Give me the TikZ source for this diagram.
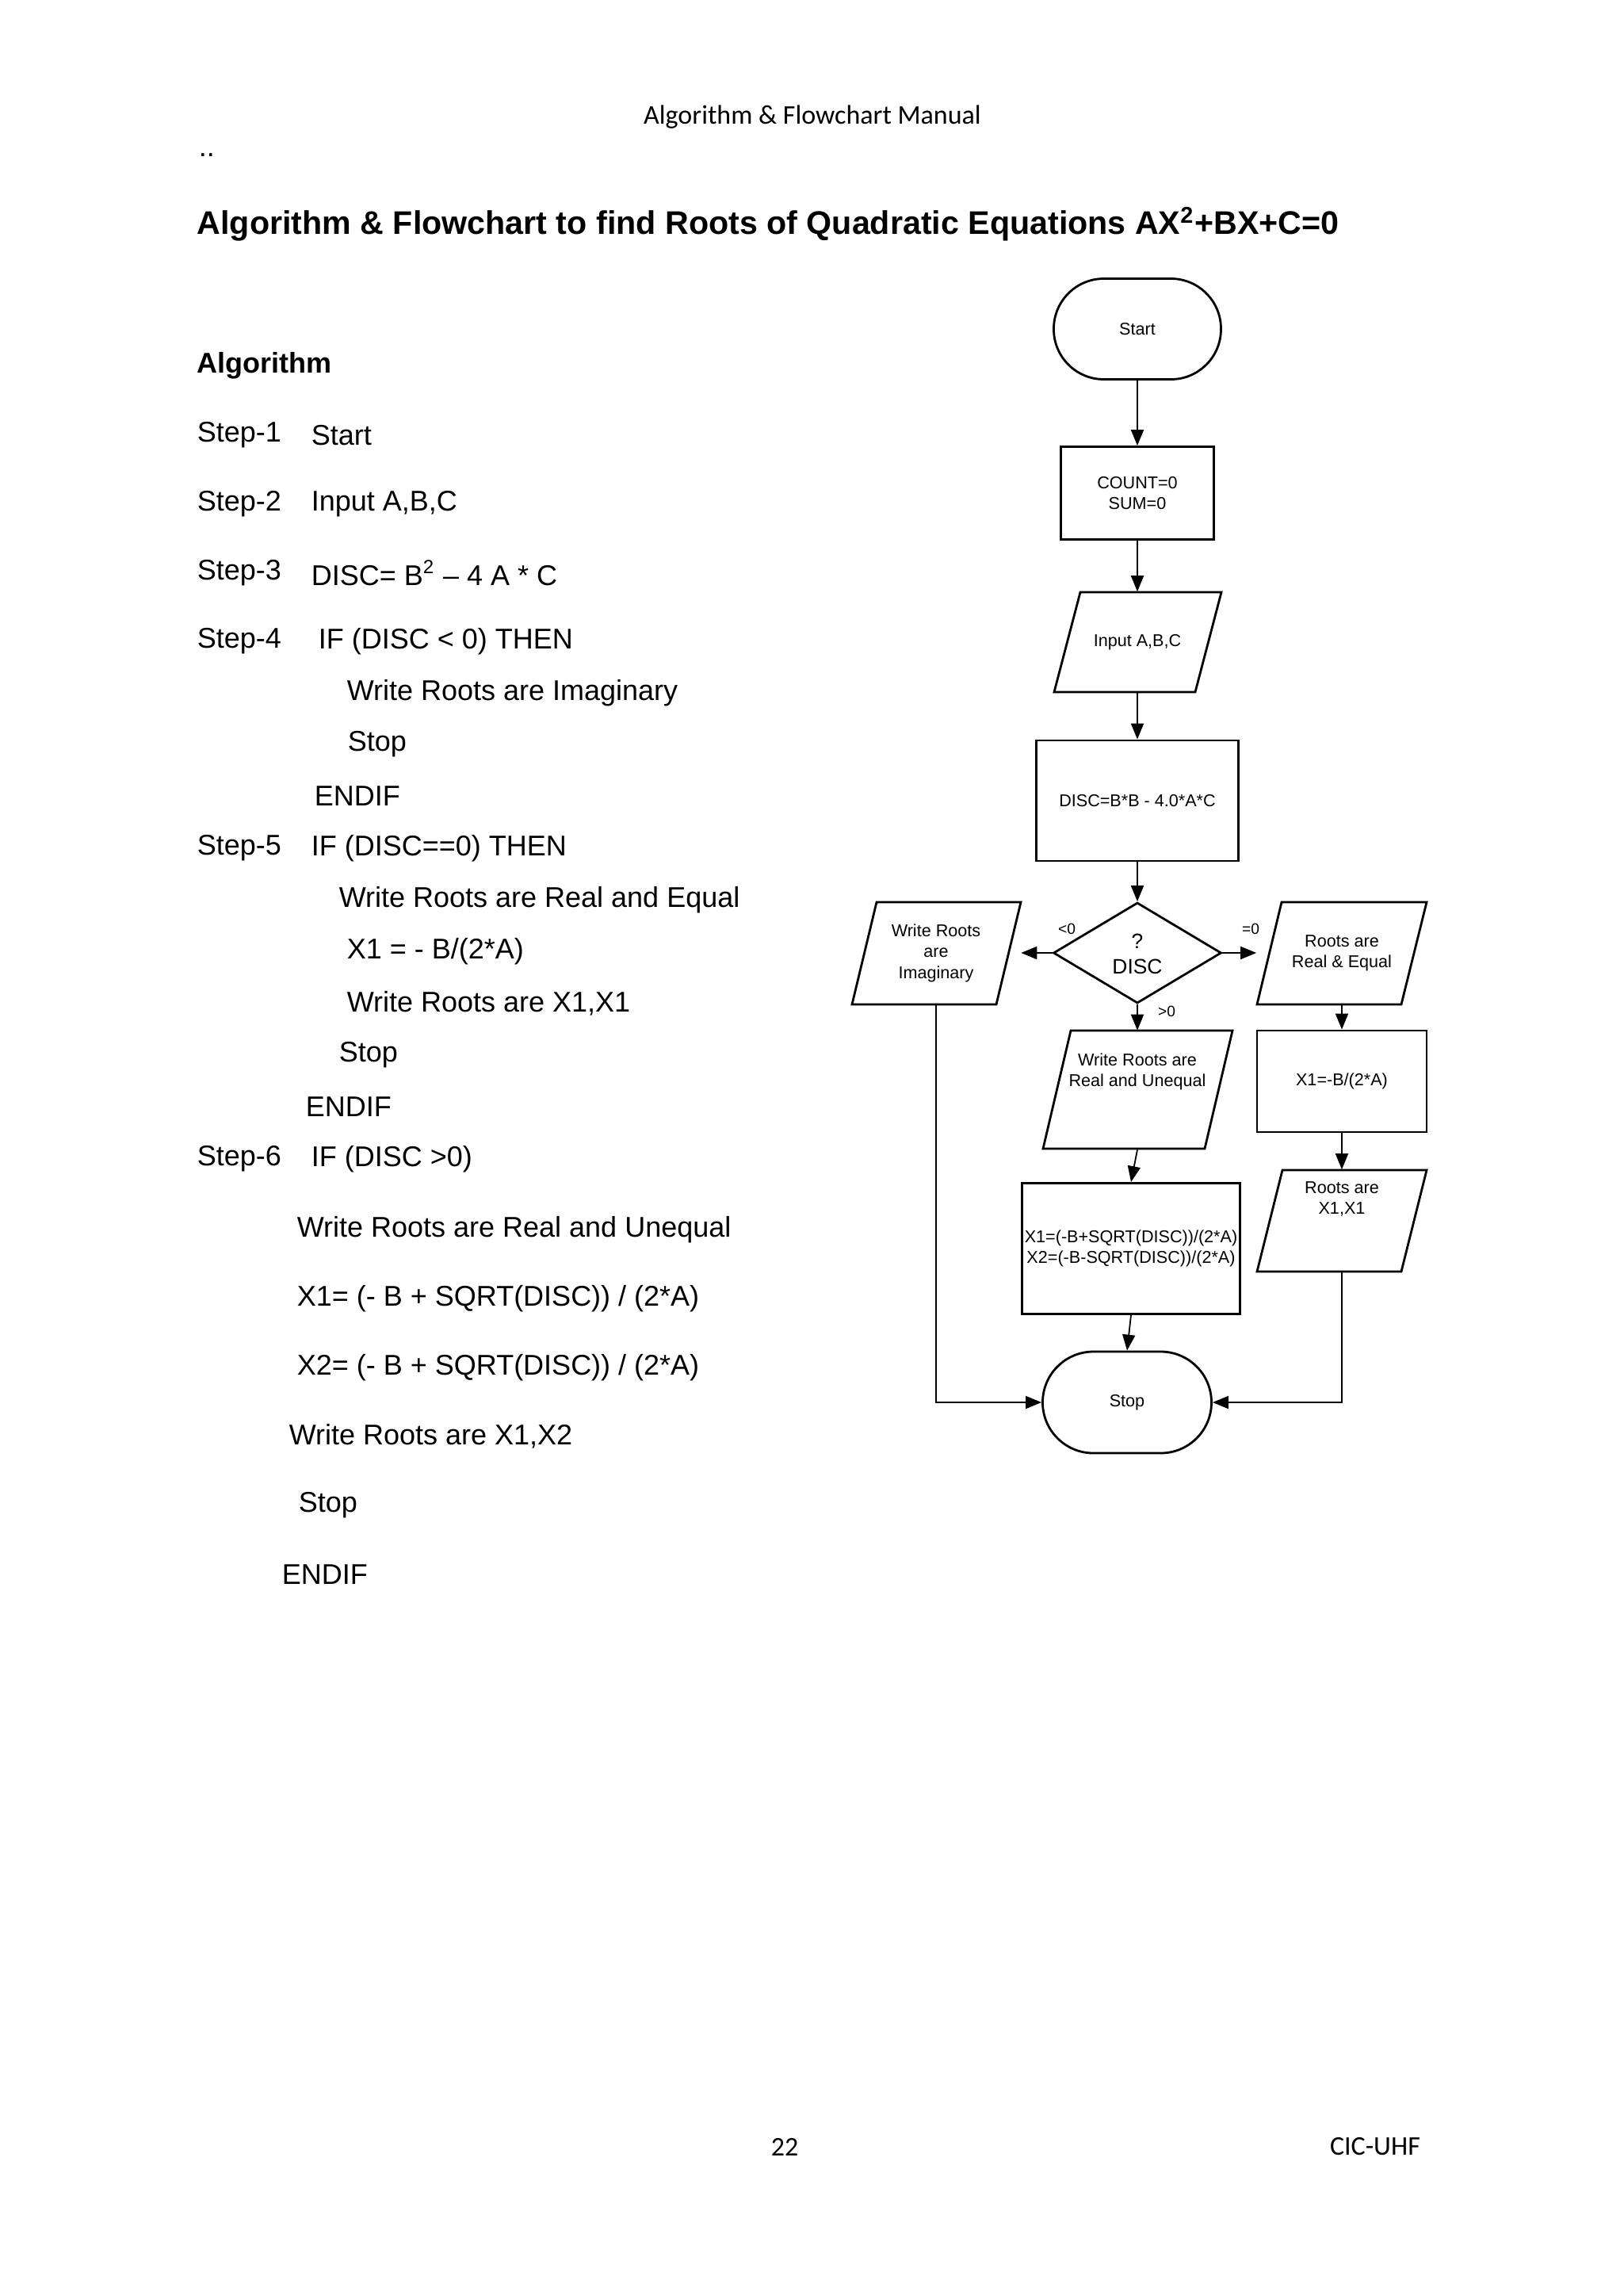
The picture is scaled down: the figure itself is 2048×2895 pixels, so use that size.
\documentclass[tikz,border=0pt]{standalone}
\usepackage{fontspec}
\setmainfont{Liberation Sans}
\newfontfamily\calib{Carlito}
\usetikzlibrary{arrows.meta,shapes.geometric}
\begin{document}
\begin{tikzpicture}[x=0.25pt,y=-0.25pt,
  body/.style={anchor=west,inner sep=0pt,font=\fontsize{9}{11}\selectfont},
  shp/.style={line width=0.7pt},
  fc/.style={align=center,inner sep=0pt,font=\fontsize{5.4}{6.6}\selectfont},
  box/.style={shp,draw,rectangle,minimum width=#1},
  ghost/.style={inner sep=0pt,align=center,font=\fontsize{5.4}{6.6}\selectfont},
  arr/.style={line width=0.45pt,-{Triangle[length=5pt,width=4pt]}},
  lab/.style={inner sep=0pt,font=\fontsize{4.8}{6}\selectfont}]
\useasboundingbox (0,0) rectangle (2048,2895);
% header/footer
\node[font=\calib\fontsize{8.5}{10}\selectfont] (hdr) at (1025,148) {Algorithm \& Flowchart Manual};
\node[body] (dots) at (250,196) {..};
\node[font=\calib\fontsize{8.5}{10}\selectfont] (pg) at (990,2708) {22};
\node[font=\calib\fontsize{8.5}{10}\selectfont,anchor=east] (cic) at (1806,2708) {CIC-UHF};
% title
\node[body,font=\bfseries\fontsize{10.3}{12}\selectfont] (title) at (248,283) {Algorithm \& Flowchart to find Roots of Quadratic Equations AX\textsuperscript{2}+BX+C=0};
\node[body,font=\bfseries\fontsize{9}{11}\selectfont] (alg) at (248,461) {Algorithm};
% steps
\node[body] (s1) at (248,549) {Step-1};\node[body] (t1) at (392,549) {Start};
\node[body] (s2) at (248,636) {Step-2};\node[body] (t2) at (392,636) {Input A,B,C};
\node[body] (s3) at (248,723) {Step-3};\node[body] (t3) at (392,723) {DISC= B\textsuperscript{2} – 4 A * C};
\node[body] (s4) at (248,809) {Step-4};\node[body] (t4) at (401,809) {IF (DISC < 0) THEN};
\node[body] (t4a) at (437,874) {Write Roots are Imaginary};
\node[body] (t4b) at (438,939) {Stop};
\node[body] (t4c) at (396,1004) {ENDIF};
\node[body] (s5) at (248,1070) {Step-5};\node[body] (t5) at (392,1070) {IF (DISC==0) THEN};
\node[body] (t5a) at (427,1135) {Write Roots are Real and Equal};
\node[body] (t5b) at (437,1200) {X1 = - B/(2*A)};
\node[body] (t5c) at (437,1266) {Write Roots are X1,X1};
\node[body] (t5d) at (427,1331) {Stop};
\node[body] (t5e) at (385,1396) {ENDIF};
\node[body] (s6) at (248,1462) {Step-6};\node[body] (t6) at (392,1462) {IF (DISC >0)};
\node[body] (t6a) at (374,1551) {Write Roots are Real and Unequal};
\node[body] (t6b) at (374,1638) {X1= (- B + SQRT(DISC)) / (2*A)};
\node[body] (t6c) at (374,1725) {X2= (- B + SQRT(DISC)) / (2*A)};
\node[body] (t6d) at (364,1812) {Write Roots are X1,X2};
\node[body] (t6e) at (376,1899) {Stop};
\node[body] (t6f) at (355,1986) {ENDIF};
% flowchart
\node[shp,draw,rounded corners=15.8pt,minimum width=52.75pt,minimum height=31.75pt,fc] (start) at (1435,415) {Start};
\node[box=48.25pt,minimum height=29.25pt,fc] (init) at (1435,622) {COUNT=0\\SUM=0};
\draw[shp] (1363,747)--(1541,747)--(1508,873)--(1330,873)--cycle;
\node[ghost,minimum width=52.75pt,minimum height=31.5pt] (inp) at (1435,810) {Input A,B,C};
\node[box=63.75pt,minimum height=38pt,fc] (disc) at (1435,1010) {DISC=B*B - 4.0*A*C};
\node[shp,draw,diamond,aspect=1.67,minimum width=53pt,minimum height=31.75pt,inner sep=0pt] (dec) at (1435,1202) {};
\node[inner sep=0pt,font=\fontsize{6.6}{8}\selectfont,align=center] (dect) at (1435,1203) {?\\DISC};
\draw[shp] (1106,1138)--(1288,1138)--(1257,1267)--(1075,1267)--cycle;
\node[ghost,minimum width=53.25pt,minimum height=32.25pt] (imag) at (1181,1202) {Write Roots\\are\\Imaginary};
\draw[shp] (1617,1138)--(1800,1138)--(1768,1267)--(1586,1267)--cycle;
\node[ghost,minimum width=53.5pt,minimum height=32.25pt] (eq) at (1693,1202) {Roots are\\Real \& Equal};
\draw[shp] (1351,1300)--(1555,1300)--(1520,1449)--(1316,1449)--cycle;
\node[ghost,minimum width=59.75pt,minimum height=37.25pt] (uneq) at (1435,1375) {Write Roots are\\Real and Unequal\\[6pt]};
\node[box=53.5pt,minimum height=32pt,fc] (x1) at (1693,1364) {X1=-B/(2*A)};
\node[box=68.75pt,minimum height=41.25pt,fc] (x12) at (1427,1575) {X1=(-B+SQRT(DISC))/(2*A)\\X2=(-B-SQRT(DISC))/(2*A)};
\draw[shp] (1618,1476)--(1800,1476)--(1768,1604)--(1586,1604)--cycle;
\node[ghost,minimum width=53.5pt,minimum height=32pt] (rx) at (1693,1540) {Roots are\\X1,X1\\[8pt]};
\node[shp,draw,rounded corners=16pt,minimum width=53.25pt,minimum height=32pt,fc] (stop) at (1422,1769) {Stop};
% connectors
\draw[arr] (start)--(init);
\draw[arr] (init)--(inp);
\draw[arr] (inp)--(disc);
\draw[arr] (disc)--(dec);
\draw[arr] (dec.west)--(imag.east);
\draw[arr] (dec.east)--(eq.west);
\draw[arr] (dec.south)--(uneq.north);
\draw[arr] (uneq.south)--(x12.north);
\draw[arr] (x12.south)--(stop.north);
\draw[arr] (eq.south)--(x1.north);
\draw[arr] (x1.south)--(rx.north);
\draw[arr] (imag.south)|-(stop.west);
\draw[arr] (rx.south)|-(stop.east);
\node[lab] (l1) at (1346,1172) {<0};
\node[lab] (l2) at (1578,1172) {=0};
\node[lab] (l3) at (1472,1276) {>0};
\end{tikzpicture}
\end{document}
